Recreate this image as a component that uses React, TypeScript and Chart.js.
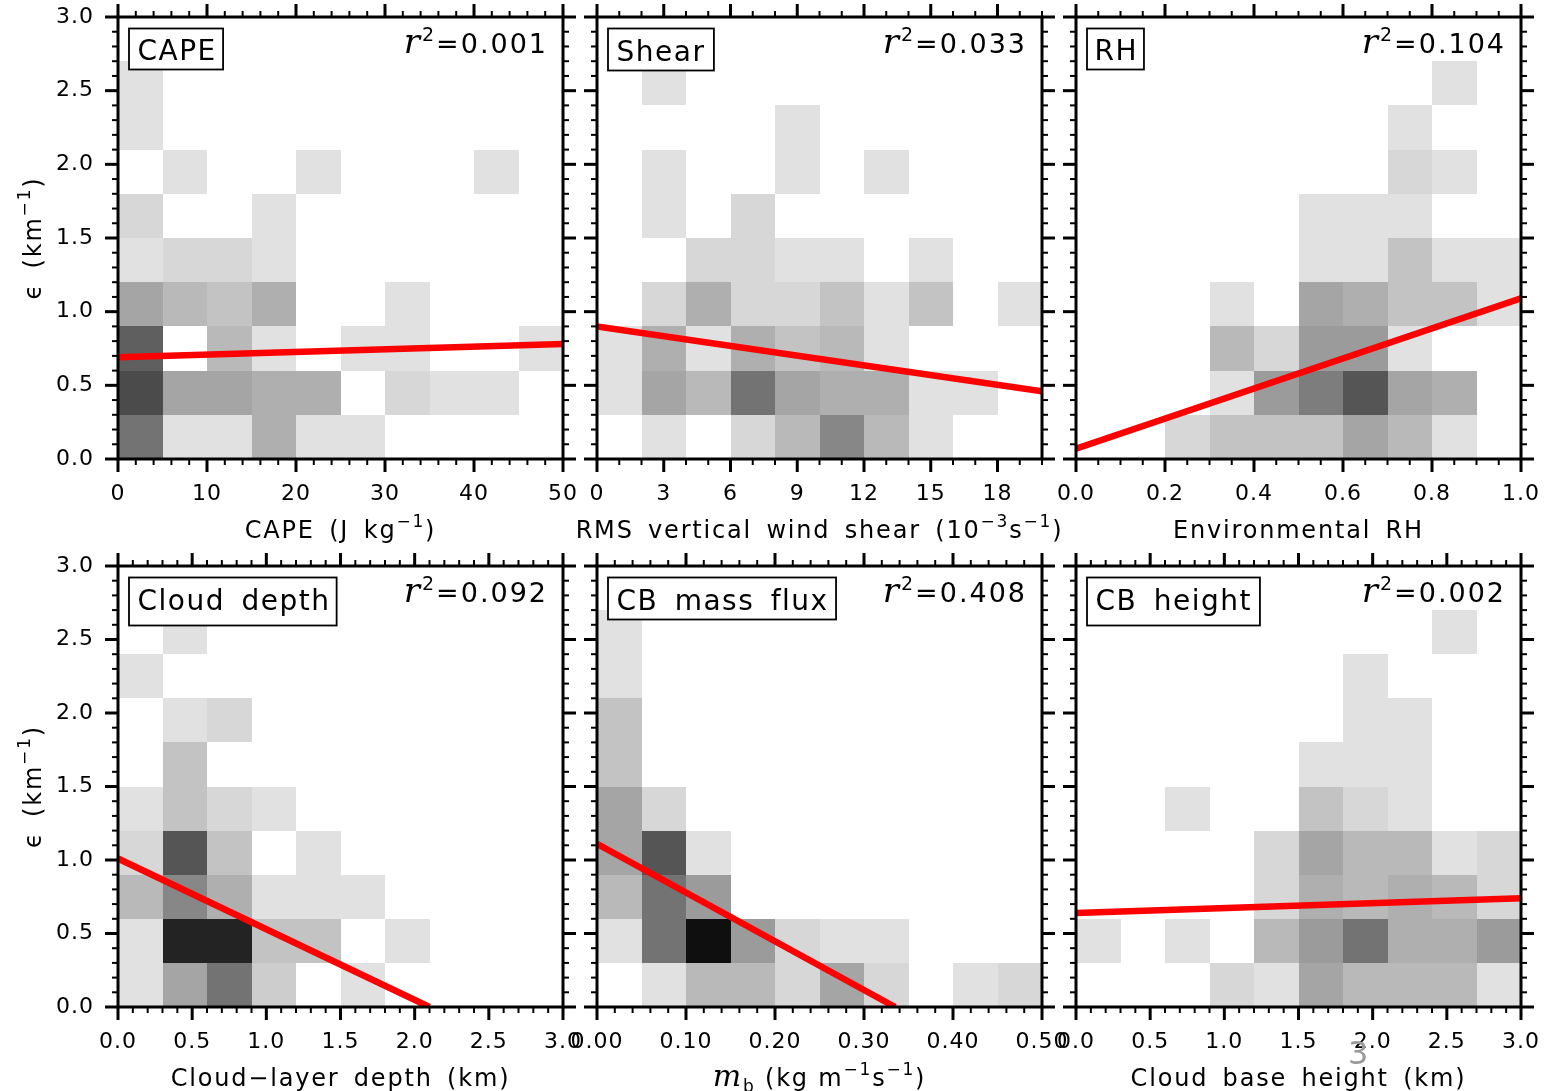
import React, { useEffect, useRef } from 'react';
import { Chart, registerables } from 'chart.js';

Chart.register(...registerables);

const SANS = '"DejaVu Sans", sans-serif';
const SERIF = '"DejaVu Serif", serif';

// ---------------- data ----------------
const panelLabels = ['CAPE', 'Shear', 'RH', 'Cloud depth', 'CB mass flux', 'CB height'];
const r2Labels = ['0.001', '0.033', '0.104', '0.092', '0.408', '0.002'];
const xMaxValues = [50, 20, 1, 3, 0.5, 3];
const xBinWidths = [5, 2, 0.1, 0.3, 0.05, 0.3];
const xMajorTicks = [
  [0, 10, 20, 30, 40, 50],
  [0, 3, 6, 9, 12, 15, 18],
  [0, 0.2, 0.4, 0.6, 0.8, 1.0],
  [0, 0.5, 1.0, 1.5, 2.0, 2.5, 3.0],
  [0, 0.1, 0.2, 0.3, 0.4, 0.5],
  [0, 0.5, 1.0, 1.5, 2.0, 2.5, 3.0],
];
const xMinorSteps = [2, 1, 0.05, 0.1, 0.02, 0.1];
const xTickDecimals = [0, 0, 1, 1, 2, 1];
const yMajorTicks = [0, 0.5, 1.0, 1.5, 2.0, 2.5, 3.0];
const yMinorStep = 0.1;
const yMax = 3;
const yBinWidth = 0.3;

// counts per bin; rows from top (2.7-3.0) to bottom (0.0-0.3), columns left to right
const capeCounts = [
  [0, 0, 0, 0, 0, 0, 0, 0, 0, 0],
  [1, 0, 0, 0, 0, 0, 0, 0, 0, 0],
  [1, 0, 0, 0, 0, 0, 0, 0, 0, 0],
  [0, 1, 0, 0, 1, 0, 0, 0, 1, 0],
  [2, 0, 0, 1, 0, 0, 0, 0, 0, 0],
  [1, 2, 2, 1, 0, 0, 0, 0, 0, 0],
  [7, 5, 4, 6, 0, 0, 1, 0, 0, 0],
  [14, 0, 5, 1, 0, 1, 1, 0, 0, 1],
  [16, 7, 7, 6, 6, 0, 2, 1, 1, 0],
  [12, 1, 1, 6, 1, 1, 0, 0, 0, 0],
];
const shearCounts = [
  [0, 0, 0, 0, 0, 0, 0, 0, 0, 0],
  [0, 1, 0, 0, 0, 0, 0, 0, 0, 0],
  [0, 0, 0, 0, 1, 0, 0, 0, 0, 0],
  [0, 1, 0, 0, 1, 0, 1, 0, 0, 0],
  [0, 1, 0, 2, 0, 0, 0, 0, 0, 0],
  [0, 0, 2, 2, 1, 1, 0, 1, 0, 0],
  [0, 2, 6, 2, 2, 4, 1, 4, 0, 1],
  [1, 6, 1, 6, 4, 5, 1, 0, 0, 0],
  [1, 7, 5, 12, 7, 6, 6, 1, 1, 0],
  [0, 1, 0, 2, 5, 10, 5, 1, 0, 0],
];
const rhCounts = [
  [0, 0, 0, 0, 0, 0, 0, 0, 0, 0],
  [0, 0, 0, 0, 0, 0, 0, 0, 1, 0],
  [0, 0, 0, 0, 0, 0, 0, 1, 0, 0],
  [0, 0, 0, 0, 0, 0, 0, 2, 1, 0],
  [0, 0, 0, 0, 0, 1, 1, 1, 0, 0],
  [0, 0, 0, 0, 0, 1, 1, 4, 1, 1],
  [0, 0, 0, 1, 0, 7, 6, 4, 4, 1],
  [0, 0, 0, 5, 2, 8, 8, 1, 0, 0],
  [0, 0, 0, 1, 8, 11, 15, 7, 6, 0],
  [0, 0, 2, 4, 4, 4, 7, 5, 1, 0],
];
const depthCounts = [
  [0, 0, 0, 0, 0, 0, 0, 0, 0, 0],
  [0, 1, 0, 0, 0, 0, 0, 0, 0, 0],
  [1, 0, 0, 0, 0, 0, 0, 0, 0, 0],
  [0, 1, 2, 0, 0, 0, 0, 0, 0, 0],
  [0, 4, 0, 0, 0, 0, 0, 0, 0, 0],
  [1, 4, 2, 1, 0, 0, 0, 0, 0, 0],
  [2, 15, 4, 0, 1, 0, 0, 0, 0, 0],
  [5, 10, 6, 1, 1, 1, 0, 0, 0, 0],
  [1, 20, 20, 4, 4, 0, 1, 0, 0, 0],
  [1, 7, 12, 3, 0, 1, 0, 0, 0, 0],
];
const massFluxCounts = [
  [0, 0, 0, 0, 0, 0, 0, 0, 0, 0],
  [1, 0, 0, 0, 0, 0, 0, 0, 0, 0],
  [1, 0, 0, 0, 0, 0, 0, 0, 0, 0],
  [4, 0, 0, 0, 0, 0, 0, 0, 0, 0],
  [4, 0, 0, 0, 0, 0, 0, 0, 0, 0],
  [7, 2, 0, 0, 0, 0, 0, 0, 0, 0],
  [7, 15, 1, 0, 0, 0, 0, 0, 0, 0],
  [5, 12, 8, 0, 0, 0, 0, 0, 0, 0],
  [1, 12, 22, 8, 2, 1, 1, 0, 0, 0],
  [0, 1, 5, 5, 2, 7, 2, 0, 1, 2],
];
const heightCounts = [
  [0, 0, 0, 0, 0, 0, 0, 0, 0, 0],
  [0, 0, 0, 0, 0, 0, 0, 0, 1, 0],
  [0, 0, 0, 0, 0, 0, 1, 0, 0, 0],
  [0, 0, 0, 0, 0, 0, 1, 1, 0, 0],
  [0, 0, 0, 0, 0, 1, 1, 1, 0, 0],
  [0, 0, 1, 0, 0, 4, 2, 1, 0, 0],
  [0, 0, 0, 0, 2, 7, 5, 5, 1, 2],
  [0, 0, 0, 0, 2, 6, 5, 6, 5, 2],
  [1, 0, 1, 0, 5, 8, 12, 6, 6, 8],
  [0, 0, 0, 2, 1, 7, 5, 5, 5, 1],
];
const allCounts = [capeCounts, shearCounts, rhCounts, depthCounts, massFluxCounts, heightCounts];

// regression lines (end points)
const fitX = [[0, 50], [0, 20], [0, 1], [0, 2.1], [0, 0.335], [0, 3]];
const fitY = [[0.69, 0.78], [0.90, 0.46], [0.07, 1.09], [1.01, 0], [1.11, 0], [0.64, 0.74]];

type Seg = { t: string; sup?: boolean; sub?: boolean; it?: boolean };
const xTitles: Seg[][] = [
  [{ t: 'CAPE (J kg' }, { t: '−1', sup: true }, { t: ')' }],
  [{ t: 'RMS vertical wind shear (10' }, { t: '−3', sup: true }, { t: 's' }, { t: '−1', sup: true }, { t: ')' }],
  [{ t: 'Environmental RH' }],
  [{ t: 'Cloud−layer depth (km)' }],
  [{ t: 'm', it: true }, { t: 'b', sub: true }, { t: ' (kg m' }, { t: '−1', sup: true }, { t: 's' }, { t: '−1', sup: true }, { t: ')' }],
  [{ t: 'Cloud base height (km)' }],
];
const yTitle: Seg[] = [{ t: 'ϵ (km' }, { t: '−1', sup: true }, { t: ')' }];

// ---------------- layout ----------------
const PLOT_LEFT = [118, 597, 1076];
const PLOT_TOP = [17, 566];
const PLOT_W = 445;
const PLOT_H = [442, 441];
const YW = 118; // space left of plot inside canvas
const PT = 17; // space above plot
const PR = 40; // space right of plot
const XH = 95; // space below plot

function shade(c: number) {
  const g = Math.max(8, Math.round(235 - 10 * c));
  return `rgb(${g},${g},${g})`;
}

function segFont(s: Seg, base: number) {
  if (s.sup || s.sub) return `${Math.round(base * 0.7)}px ${SANS}`;
  if (s.it) return `italic ${Math.round(base * 1.25)}px ${SERIF}`;
  return `${base}px ${SANS}`;
}
function segDy(s: Seg, base: number) {
  if (s.sup) return -base * 0.45;
  if (s.sub) return base * 0.25;
  return 0;
}

function drawRich(ctx: any, segs: Seg[], x: number, y: number, base: number, align: 'left' | 'center' | 'right', ls = '1.8px', wsp = '5px') {
  ctx.save();
  ctx.letterSpacing = ls;
  ctx.wordSpacing = wsp;
  ctx.textAlign = 'left';
  ctx.textBaseline = 'alphabetic';
  ctx.fillStyle = '#000';
  let total = 0;
  const widths = segs.map((s) => {
    ctx.font = segFont(s, base);
    const w = ctx.measureText(s.t).width;
    total += w;
    return w;
  });
  let cx = align === 'center' ? x - total / 2 : align === 'right' ? x - total : x;
  segs.forEach((s, i) => {
    ctx.font = segFont(s, base);
    ctx.fillText(s.t, cx, y + segDy(s, base));
    cx += widths[i];
  });
  ctx.restore();
}

function isNear(v: number, arr: number[], tol: number) {
  return arr.some((m) => Math.abs(m - v) < tol);
}

function makePlugin(idx: number) {
  const col = idx % 3;
  return {
    id: 'panelDeco' + idx,
    beforeDraw(chart: any) {
      // slightly wider letter spacing for the axis tick labels
      chart.ctx.letterSpacing = '1px';
    },
    beforeDatasetsDraw(chart: any) {
      const { ctx, scales } = chart;
      const xs = scales.x;
      const ys = scales.y;
      const bw = xBinWidths[idx];
      ctx.save();
      allCounts[idx].forEach((rowArr: number[], i: number) => {
        const yHi = yMax - i * yBinWidth;
        const yLo = yHi - yBinWidth;
        const py0 = Math.round(ys.getPixelForValue(yHi));
        const py1 = Math.round(ys.getPixelForValue(yLo));
        rowArr.forEach((c: number, j: number) => {
          if (c <= 0) return;
          const px0 = Math.round(xs.getPixelForValue(j * bw));
          const px1 = Math.round(xs.getPixelForValue((j + 1) * bw));
          ctx.fillStyle = shade(c);
          ctx.fillRect(px0, py0, px1 - px0, py1 - py0);
        });
      });
      ctx.restore();
    },
    afterDatasetsDraw(chart: any) {
      const { ctx, chartArea: a, scales } = chart;
      const xs = scales.x;
      const ys = scales.y;
      ctx.save();
      ctx.strokeStyle = '#000';
      ctx.lineCap = 'butt';
      const seg = (x1: number, y1: number, x2: number, y2: number, w: number) => {
        ctx.lineWidth = w;
        ctx.beginPath();
        ctx.moveTo(x1, y1);
        ctx.lineTo(x2, y2);
        ctx.stroke();
      };
      const MAJ = 13;
      const MIN = 6;
      // x ticks
      const majX = xMajorTicks[idx];
      majX.forEach((v) => {
        const p = xs.getPixelForValue(v);
        seg(p, a.bottom, p, a.bottom + MAJ, 3);
        seg(p, a.top, p, a.top - MAJ, 3);
      });
      const stX = xMinorSteps[idx];
      const nX = Math.round(xMaxValues[idx] / stX);
      for (let k = 0; k <= nX; k++) {
        const v = k * stX;
        if (isNear(v, majX, stX * 0.01)) continue;
        const p = xs.getPixelForValue(v);
        seg(p, a.bottom, p, a.bottom + MIN, 2);
        seg(p, a.top, p, a.top - MIN, 2);
      }
      // y ticks
      yMajorTicks.forEach((v) => {
        const p = ys.getPixelForValue(v);
        seg(a.left, p, a.left - MAJ, p, 3);
        seg(a.right, p, a.right + MAJ, p, 3);
      });
      const nY = Math.round(yMax / yMinorStep);
      for (let k = 0; k <= nY; k++) {
        const v = k * yMinorStep;
        if (isNear(v, yMajorTicks, yMinorStep * 0.01)) continue;
        const p = ys.getPixelForValue(v);
        seg(a.left, p, a.left - MIN, p, 2);
        seg(a.right, p, a.right + MIN, p, 2);
      }
      // frame
      ctx.lineWidth = 3;
      ctx.strokeRect(a.left, a.top, a.right - a.left, a.bottom - a.top);

      // label box
      ctx.font = `28px ${SANS}`;
      (ctx as any).letterSpacing = '1.5px';
      (ctx as any).wordSpacing = '6px';
      ctx.textAlign = 'left';
      ctx.textBaseline = 'alphabetic';
      const label = panelLabels[idx];
      const m = ctx.measureText(label);
      const asc = m.actualBoundingBoxAscent;
      const desc = Math.max(0, m.actualBoundingBoxDescent);
      const inkL = m.actualBoundingBoxLeft;
      const inkR = m.actualBoundingBoxRight;
      const bx = a.left + 11;
      const by = a.top + 11.5;
      const padX = 9.5;
      const padY = 10;
      const bwid = inkL + inkR + 2 * padX;
      const bh = asc + desc + 2 * padY;
      ctx.fillStyle = '#fff';
      ctx.fillRect(bx, by, bwid, bh);
      ctx.lineWidth = 1.8;
      ctx.strokeRect(bx, by, bwid, bh);
      ctx.fillStyle = '#000';
      ctx.fillText(label, bx + padX + inkL, by + padY + asc);
      ctx.restore();

      // r^2
      drawRich(ctx, [{ t: 'r', it: true }, { t: '2', sup: true }, { t: '=' + r2Labels[idx] }], a.right - 15, a.top + 36, 27, 'right', '2px', '0px');
    },
    afterDraw(chart: any) {
      const { ctx, chartArea: a } = chart;
      ctx.letterSpacing = '0px';
      const cx = (a.left + a.right) / 2;
      drawRich(ctx, xTitles[idx], cx, a.bottom + 79, 24, 'center');
      if (col === 0) {
        ctx.save();
        ctx.translate(a.left - 77.5, (a.top + a.bottom) / 2);
        ctx.rotate(-Math.PI / 2);
        drawRich(ctx, yTitle, 0, 0, 24, 'center');
        ctx.restore();
      }
    },
  };
}

function Panel({ idx }: { idx: number }) {
  const ref = useRef<HTMLCanvasElement>(null);
  const col = idx % 3;
  const row = Math.floor(idx / 3);
  const plotLeft = PLOT_LEFT[col];
  const plotTop = PLOT_TOP[row];
  const plotH = PLOT_H[row];
  const W = YW + PLOT_W + PR;
  const H = PT + plotH + XH;

  useEffect(() => {
    const canvas = ref.current;
    if (!canvas) return;
    const dec = xTickDecimals[idx];
    const tickFont = { family: SANS, size: 22, lineHeight: 1 };
    const chart = new Chart(canvas, {
      type: 'line',
      data: {
        datasets: [
          {
            data: fitX[idx].map((x, i) => ({ x, y: fitY[idx][i] })),
            borderColor: '#ff0000',
            borderWidth: 6.5,
            pointRadius: 0,
            fill: false,
            tension: 0,
            clip: 0,
          } as any,
        ],
      },
      options: {
        responsive: false,
        animation: false,
        devicePixelRatio: 1,
        events: [],
        layout: { padding: { left: 0, top: PT, right: PR, bottom: 0 } },
        plugins: {
          legend: { display: false },
          tooltip: { enabled: false },
          title: { display: false },
        },
        scales: {
          x: {
            type: 'linear',
            min: 0,
            max: xMaxValues[idx],
            grid: { display: false, drawTicks: false },
            border: { display: false },
            afterBuildTicks: (s: any) => {
              s.ticks = xMajorTicks[idx].map((v) => ({ value: v }));
            },
            afterFit: (s: any) => {
              s.height = XH;
              s.paddingLeft = 0;
              s.paddingRight = 0;
            },
            ticks: {
              autoSkip: false,
              maxRotation: 0,
              minRotation: 0,
              padding: 24,
              color: '#000',
              font: tickFont,
              callback: (v: any) => Number(v).toFixed(dec),
            },
          },
          y: {
            type: 'linear',
            min: 0,
            max: yMax,
            grid: { display: false, drawTicks: false },
            border: { display: false },
            afterBuildTicks: (s: any) => {
              s.ticks = yMajorTicks.map((v) => ({ value: v }));
            },
            afterFit: (s: any) => {
              s.width = YW;
              s.paddingTop = 0;
              s.paddingBottom = 0;
            },
            ticks: {
              display: col === 0,
              autoSkip: false,
              padding: 24,
              color: '#000',
              font: tickFont,
              callback: (v: any) => Number(v).toFixed(1),
            },
          },
        },
      } as any,
      plugins: [makePlugin(idx)],
    });
    return () => chart.destroy();
  }, [idx]);

  return (
    <canvas
      ref={ref}
      width={W}
      height={H}
      style={{ position: 'absolute', left: plotLeft - YW, top: plotTop - PT, width: W, height: H }}
    />
  );
}

export default function App() {
  return (
    <div
      style={{
        position: 'absolute',
        left: 0,
        top: 0,
        width: 1547,
        height: 1091,
        background: '#fff',
        overflow: 'hidden',
      }}
    >
      {[0, 1, 2, 3, 4, 5].map((i) => (
        <Panel key={i} idx={i} />
      ))}
      <div
        style={{
          position: 'absolute',
          left: 1348,
          top: 1033,
          fontFamily: SANS,
          fontSize: 32,
          color: '#9a9a9a',
          lineHeight: '40px',
        }}
      >
        3
      </div>
    </div>
  );
}
